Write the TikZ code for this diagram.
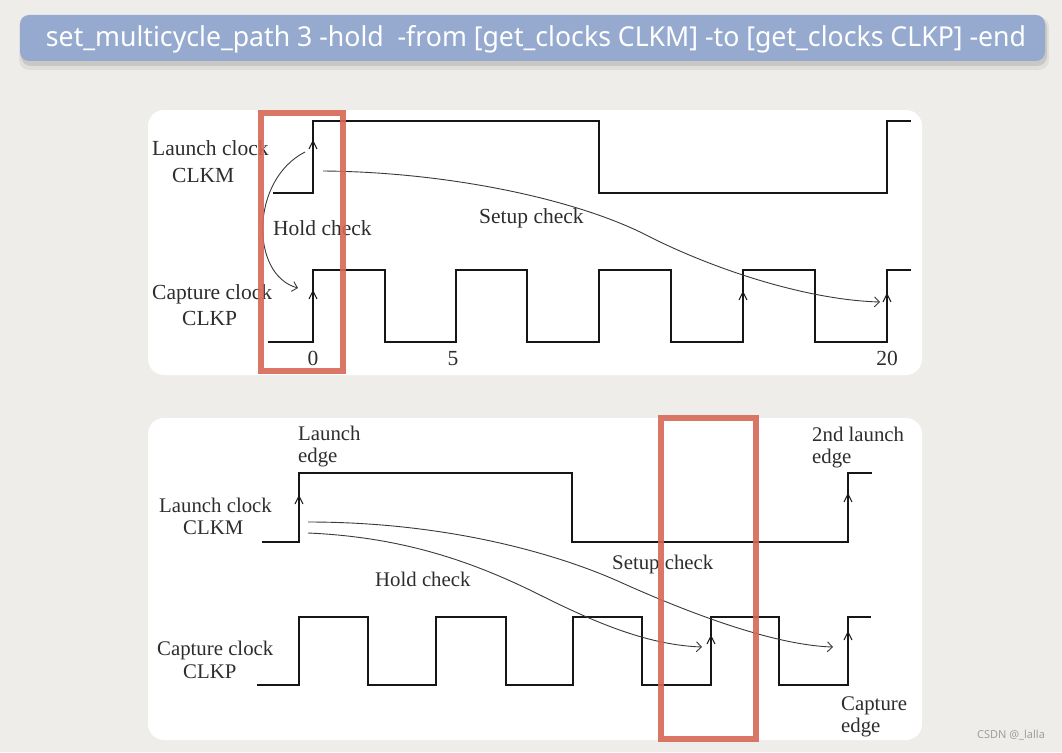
\documentclass[tikz,border=0pt]{standalone}
\usepackage{fontspec}
\setmainfont{Liberation Serif}
\newfontfamily\titlefont{Noto Sans}
\usetikzlibrary{arrows.meta}
\definecolor{bg}{RGB}{238,237,233}
\definecolor{barblue}{RGB}{150,170,208}
\definecolor{redbox}{RGB}{214,104,86}
\definecolor{ink}{RGB}{22,22,22}
\begin{document}
\begin{tikzpicture}[x=1pt,y=-1pt,
  wave/.style={line width=2pt, draw=ink, line join=miter},
  curve/.style={line width=0.9pt, draw=ink!85, -{Straight Barb[length=5pt,width=10pt]}},
  lblt/.style={font=\fontsize{21.5}{24}\selectfont, text=ink!90, inner sep=0pt, anchor=base west},
  lblb/.style={font=\fontsize{20.8}{23}\selectfont, text=ink!90, inner sep=0pt, anchor=base west},
  panel/.style={fill=white, rounded corners=16pt},
  hilite/.style={draw=redbox, line width=6.5pt, opacity=0.9},
  edgetick/.pic={\draw[line width=1pt, ink] (-4,8) -- (0,0) -- (4,8);}
]
% background
\fill[bg] (0,0) rectangle (1062,752);
\useasboundingbox (0,0) rectangle (1062,752);

% title bar
\fill[black, opacity=0.06, rounded corners=10pt] (19,17) rectangle (1049,70);
\fill[black, opacity=0.10, rounded corners=10pt] (21,18) rectangle (1047,66);
\fill[barblue, rounded corners=9pt] (20,15) rectangle (1045,61);
\node[text=white, inner sep=0pt, anchor=base] (title) at (536,47)
  {\resizebox{980pt}{21pt}{\titlefont set\_multicycle\_path 3 -hold\ \ -from [get\_clocks CLKM] -to [get\_clocks CLKP] -end}};

% panels
\fill[panel] (148,110) rectangle (922,375);
\fill[panel] (148,418) rectangle (922,740);

% ---------- top panel ----------
\draw[wave] (273,193) -| (313,121) -| (599,193) -| (887,121) -- (911,121);
\draw[wave] (268,342) -| (313,270) -| (385,342) -| (456,270) -| (527,342)
  -| (599,270) -| (671,342) -| (743,270) -| (815,342) -| (887,270) -- (911,270);

\pic at (313,141) {edgetick};
\pic at (313,291) {edgetick};
\pic at (743,292) {edgetick};
\pic at (887,294) {edgetick};

\coordinate (holdT0) at (305,152);
\coordinate (holdT1) at (298,288);
\draw[curve] (holdT0) .. controls (250,180) and (250,275) .. (holdT1);
\coordinate (setT0) at (323,171);
\coordinate (setTm) at (650,237);
\coordinate (setT1) at (880,302);
\draw[curve] (setT0) .. controls (450,172) and (580,200) .. (setTm)
  .. controls (720,272) and (810,300) .. (setT1);

\node[lblt] (lcT) at (152,155) {Launch clock};
\node[lblt] (clkmT) at (172,182) {CLKM};
\node[lblt] (ccT) at (152,299) {Capture clock};
\node[lblt] (clkpT) at (182,325) {CLKP};
\node[lblt] (hcT) at (273,235) {Hold check};
\node[lblt] (scT) at (479,223) {Setup check};
\node[lblt, anchor=base] (n0) at (313,365) {0};
\node[lblt, anchor=base] (n5) at (453,365) {5};
\node[lblt, anchor=base] (n20) at (887,365) {20};

% ---------- bottom panel ----------
\draw[wave] (262,542) -| (299,473) -| (572,542) -| (848,473) -- (872,473);
\draw[wave] (257,685) -| (299,617) -| (368,685) -| (436,617) -| (506,685)
  -| (573,617) -| (642,685) -| (711,617) -| (779,685) -| (848,617) -- (871,617);

\pic at (299,496) {edgetick};
\pic at (848,494) {edgetick};
\pic at (711,636) {edgetick};
\pic at (848,632) {edgetick};

\coordinate (setB0) at (308,522);
\coordinate (setBm) at (620,582);
\coordinate (setB1) at (833,647);
\draw[curve] (setB0) .. controls (450,522) and (560,555) .. (setBm)
  .. controls (680,609) and (770,645) .. (setB1);
\coordinate (holdB0) at (308,533);
\coordinate (holdBm) at (540,595);
\coordinate (holdB1) at (702,647);
\draw[curve] (holdB0) .. controls (400,537) and (470,560) .. (holdBm)
  .. controls (600,625) and (650,645) .. (holdB1);

\node[lblb] (leB1) at (298,440) {Launch};
\node[lblb] (leB2) at (298,462) {edge};
\node[lblb] (lcB) at (159,512) {Launch clock};
\node[lblb] (clkmB) at (183,534) {CLKM};
\node[lblb] (hcB) at (375,586) {Hold check};
\node[lblb] (ccB) at (157,655) {Capture clock};
\node[lblb] (clkpB) at (183,678) {CLKP};
\node[lblb] (scB) at (612,569) {Setup check};
\node[lblb] (sleB1) at (812,441) {2nd launch};
\node[lblb] (sleB2) at (812,463) {edge};
\node[lblb] (ceB1) at (841,710) {Capture};
\node[lblb] (ceB2) at (841,732) {edge};

% highlight boxes
\draw[hilite] (261,113) rectangle (343,371);
\draw[hilite] (661,418) rectangle (756,739);

% watermark
\node[font=\titlefont\fontsize{11}{13}\selectfont, text=gray!75, inner sep=0pt] (wm) at (1011,735) {CSDN @\_lalla};
\end{tikzpicture}
\end{document}
